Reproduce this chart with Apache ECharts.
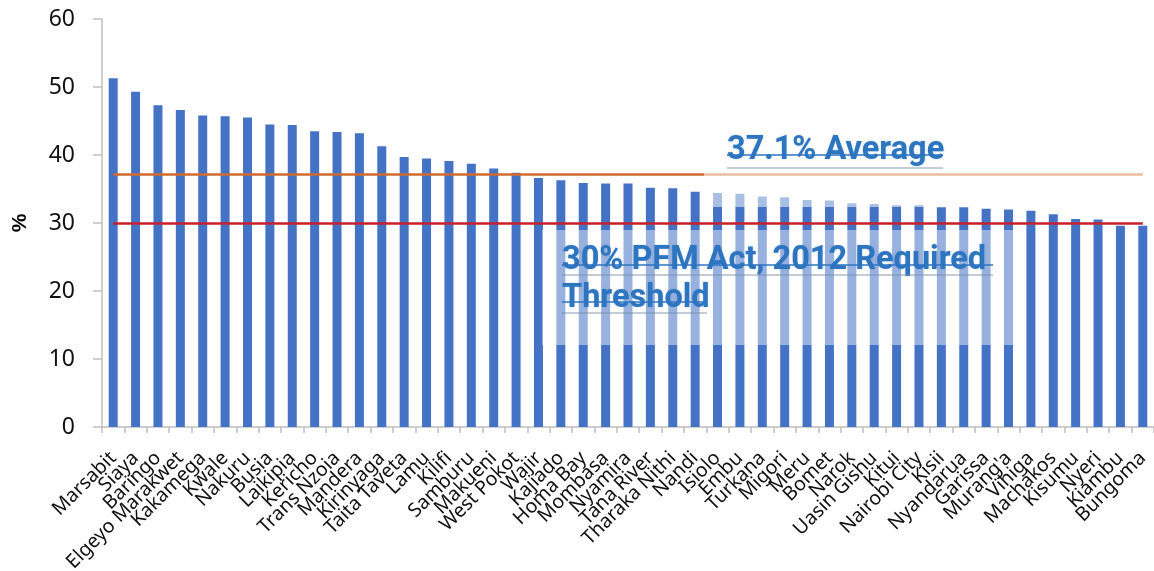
<!DOCTYPE html>
<html>
<head>
<meta charset="utf-8">
<script src="https://cdn.jsdelivr.net/npm/echarts@6/dist/echarts.min.js"></script>
<style>
  html, body { margin: 0; padding: 0; background: #fff; }
  #chart { width: 1154px; height: 571px; }
</style>
</head>
<body>
<div id="chart"></div>
<script>
// Share of county budgets (%) by county, sorted high to low
const counties = [
  "Marsabit", "Siaya", "Baringo", "Elgeyo Marakwet", "Kakamega", "Kwale", "Nakuru",
  "Busia", "Laikipia", "Kericho", "Trans Nzoia", "Mandera", "Kirinyaga", "Taita Taveta",
  "Lamu", "Kilifi", "Samburu", "Makueni", "West Pokot", "Wajir", "Kajiado", "Homa Bay",
  "Mombasa", "Nyamira", "Tana River", "Tharaka Nithi", "Nandi", "Isiolo", "Embu",
  "Turkana", "Migori", "Meru", "Bomet", "Narok", "Uasin Gishu", "Kitui", "Nairobi City",
  "Kisii", "Nyandarua", "Garissa", "Murang'a", "Vihiga", "Machakos", "Kisumu", "Nyeri",
  "Kiambu", "Bungoma"
];
const shares = [
  51.3, 49.3, 47.3, 46.6, 45.8, 45.7, 45.5,
  44.5, 44.4, 43.5, 43.4, 43.2, 41.3, 39.7,
  39.5, 39.1, 38.7, 38.0, 37.4, 36.6, 36.3, 35.9,
  35.8, 35.8, 35.2, 35.1, 34.6, 34.4, 34.3,
  33.9, 33.8, 33.4, 33.3, 32.9, 32.8, 32.6, 32.6,
  32.3, 32.3, 32.1, 32.0, 31.8, 31.3, 30.6, 30.5,
  29.6, 29.6
];
const averageShare = 37.1;
const requiredThreshold = 30;
const averageText = "37.1% Average";
const thresholdText = ["30% PFM Act, 2012 Required", "Threshold"];

const chart = echarts.init(document.getElementById('chart'), null, { renderer: 'canvas' });

const noteBlue = '#2E75C0';
const noteFont = 'bold 32.5px Roboto';

const option = {
  animation: false,
  backgroundColor: '#ffffff',
  grid: { left: 102, right: 0, top: 19, bottom: 144, containLabel: false, outerBoundsMode: 'none' },
  xAxis: {
    type: 'category',
    data: counties,
    axisLine: { lineStyle: { color: '#BFBFBF', width: 1.5 } },
    axisTick: { show: true, length: 6, lineStyle: { color: '#BFBFBF', width: 1.5 } },
    axisLabel: {
      interval: 0,
      rotate: 45,
      margin: 28,
      fontFamily: 'Noto Sans',
      fontSize: 19.5,
      color: '#111'
    },
    splitLine: { show: false }
  },
  yAxis: {
    type: 'value',
    min: 0,
    max: 60,
    interval: 10,
    name: '%',
    nameLocation: 'middle',
    nameGap: 71,
    nameRotate: 90,
    nameMoveOverlap: false,
    nameTextStyle: { fontFamily: 'Liberation Sans', fontWeight: 'bold', fontSize: 21, color: '#000' },
    axisLine: { show: true, lineStyle: { color: '#BFBFBF', width: 1.5 } },
    axisTick: { show: true, length: 9, lineStyle: { color: '#BFBFBF', width: 1.5 } },
    axisLabel: { margin: 27, fontFamily: 'Noto Sans', fontSize: 23, color: '#111' },
    splitLine: { show: false }
  },
  series: [{
    type: 'bar',
    data: shares,
    barWidth: 9,
    itemStyle: { color: '#4472C4' },
    markLine: {
      silent: true,
      symbol: 'none',
      label: { show: false },
      data: [
        [
          { xAxis: 0, yAxis: averageShare, lineStyle: { color: '#D06A2E', width: 2.5, type: 'solid' } },
          { xAxis: counties.length - 1, yAxis: averageShare }
        ],
        [
          { xAxis: 0, yAxis: requiredThreshold, lineStyle: { color: '#C8202B', width: 2.5, type: 'solid' } },
          { xAxis: counties.length - 1, yAxis: requiredThreshold }
        ]
      ]
    }
  }],
  graphic: [
    // washed-out panels behind the two notes
    { type: 'rect', z: 100, shape: { x: 704, y: 120, width: 446, height: 65 },
      style: { fill: 'rgba(255,255,255,0.55)' } },
    { type: 'rect', z: 100, shape: { x: 704, y: 185, width: 239, height: 22 },
      style: { fill: 'rgba(255,255,255,0.55)' } },
    { type: 'rect', z: 100, shape: { x: 542, y: 230, width: 475, height: 115 },
      style: { fill: 'rgba(255,255,255,0.45)' } },

    // average note
    { type: 'text', z: 101, style: { x: 727, y: 151, text: averageText, font: noteFont,
      fill: noteBlue, verticalAlign: 'middle', textShadowColor: 'rgba(46,117,192,0.35)', textShadowBlur: 2 } },
    { type: 'line', z: 102, shape: { x1: 727, y1: 155, x2: 943, y2: 155 },
      style: { stroke: noteBlue, lineWidth: 1.5 } },
    { type: 'line', z: 102, shape: { x1: 727, y1: 168, x2: 943, y2: 168 },
      style: { stroke: 'rgba(120,140,170,0.6)', lineWidth: 1.5 } },

    // threshold note
    { type: 'text', z: 101, style: { x: 562, y: 261, text: thresholdText[0], font: noteFont,
      fill: noteBlue, verticalAlign: 'middle', textShadowColor: 'rgba(46,117,192,0.35)', textShadowBlur: 2 } },
    { type: 'text', z: 101, style: { x: 562, y: 299, text: thresholdText[1], font: noteFont,
      fill: noteBlue, verticalAlign: 'middle', textShadowColor: 'rgba(46,117,192,0.35)', textShadowBlur: 2 } },
    { type: 'line', z: 102, shape: { x1: 562, y1: 265, x2: 993, y2: 265 },
      style: { stroke: noteBlue, lineWidth: 1.5 } },
    { type: 'line', z: 102, shape: { x1: 562, y1: 275, x2: 993, y2: 275 },
      style: { stroke: 'rgba(120,140,170,0.6)', lineWidth: 1.5 } },
    { type: 'line', z: 102, shape: { x1: 562, y1: 302, x2: 707, y2: 302 },
      style: { stroke: noteBlue, lineWidth: 1.5 } },
    { type: 'line', z: 102, shape: { x1: 562, y1: 313, x2: 707, y2: 313 },
      style: { stroke: 'rgba(120,140,170,0.6)', lineWidth: 1.5 } }
  ]
};

chart.setOption(option);
</script>
</body>
</html>
